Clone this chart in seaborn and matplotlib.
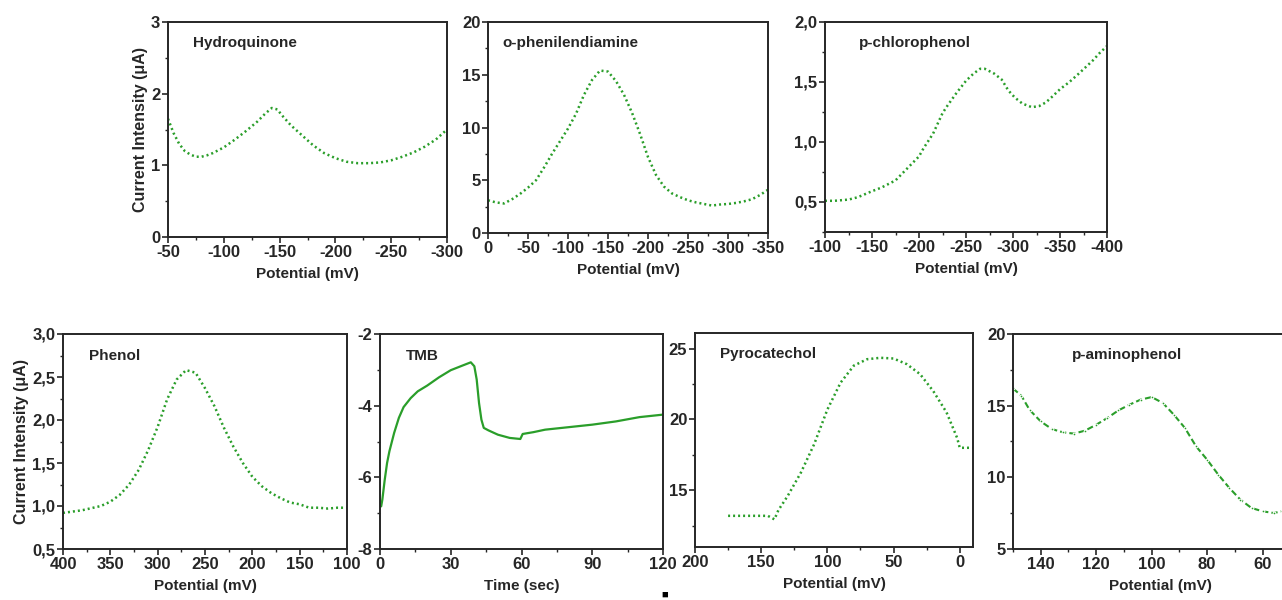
import numpy as np
import pandas as pd
import matplotlib
matplotlib.use('Agg')
import matplotlib.pyplot as plt
from matplotlib.ticker import MultipleLocator, FuncFormatter
import seaborn as sns

# ---- data ----
hq_x = [-50, -55, -60, -65, -70, -75, -80, -85, -90, -100, -110, -120, -130, -137, -143, -148,
        -152, -160, -170, -180, -190, -200, -210, -220, -230, -240, -250, -260, -270, -280, -290, -300]
hq_y = [1.65, 1.45, 1.30, 1.20, 1.15, 1.12, 1.12, 1.14, 1.17, 1.25, 1.36, 1.48, 1.61, 1.72, 1.80, 1.78,
        1.70, 1.56, 1.42, 1.28, 1.17, 1.10, 1.05, 1.03, 1.03, 1.04, 1.07, 1.12, 1.18, 1.26, 1.36, 1.50]

opd_x = [0, -10, -20, -30, -40, -50, -60, -70, -80, -90, -100, -110, -120, -130, -140, -150, -160, -170,
         -180, -190, -200, -210, -220, -230, -240, -250, -260, -270, -280, -290, -300, -310, -320, -330, -340, -350]
opd_y = [3.1, 2.9, 2.8, 3.2, 3.7, 4.3, 5.0, 6.2, 7.5, 8.7, 9.9, 11.3, 13.1, 14.5, 15.4, 15.3, 14.4, 13.1,
         11.4, 9.4, 7.2, 5.5, 4.4, 3.75, 3.4, 3.1, 2.9, 2.75, 2.6, 2.7, 2.75, 2.85, 3.0, 3.2, 3.6, 4.1]

pcp_x = [-100, -110, -125, -135, -150, -160, -175, -185, -190, -200, -205, -215, -225, -230, -240, -250,
         -258, -265, -270, -280, -288, -295, -302, -310, -320, -328, -335, -342, -350, -360, -370, -385, -392, -400]
pcp_y = [0.51, 0.51, 0.52, 0.54, 0.59, 0.62, 0.68, 0.76, 0.80, 0.88, 0.95, 1.07, 1.24, 1.30, 1.41, 1.51,
         1.57, 1.61, 1.61, 1.57, 1.52, 1.43, 1.37, 1.32, 1.29, 1.30, 1.33, 1.38, 1.44, 1.50, 1.57, 1.68, 1.74, 1.80]

phe_x = [400, 380, 360, 350, 340, 330, 320, 310, 300, 290, 280, 270, 260, 250, 240, 230, 220, 210,
         200, 190, 180, 170, 160, 150, 140, 130, 120, 110, 100]
phe_y = [0.92, 0.95, 1.00, 1.05, 1.13, 1.25, 1.42, 1.65, 1.92, 2.24, 2.47, 2.58, 2.55, 2.37, 2.16, 1.91, 1.69, 1.50,
         1.34, 1.23, 1.15, 1.09, 1.04, 1.02, 0.98, 0.98, 0.97, 0.98, 0.98]

tmb_x = [0.5, 1, 2, 3, 4, 6, 8, 10, 13, 16, 20, 25, 30, 35, 38.5, 40, 41, 42, 43, 44, 46, 50, 55, 59.5,
         60.5, 65, 70, 80, 90, 100, 110, 120]
tmb_y = [-6.81, -6.62, -6.07, -5.60, -5.27, -4.76, -4.34, -4.04, -3.79, -3.60, -3.44, -3.21, -3.01, -2.88, -2.79,
         -2.90, -3.27, -3.93, -4.39, -4.62, -4.69, -4.81, -4.90, -4.93, -4.79, -4.74, -4.67, -4.60, -4.53, -4.44, -4.32, -4.25]

pyr_x = [175, 160, 145, 140, 137, 130, 120, 110, 100, 90, 80, 70, 60, 50, 40, 30, 20, 10, 2, 0, -10]
pyr_y = [13.2, 13.2, 13.2, 12.95, 13.6, 14.6, 16.25, 18.25, 20.7, 22.6, 23.8, 24.25, 24.35, 24.3, 23.9,
         23.2, 22.0, 20.5, 18.7, 18.0, 18.0]

pap_x = [150, 147, 144, 140, 136, 132, 128, 124, 120, 116, 112, 108, 104, 100, 96, 92, 88, 84, 80, 76,
         72, 68, 64, 60, 56, 53]
pap_y = [16.2, 15.7, 14.7, 13.9, 13.37, 13.14, 13.05, 13.26, 13.67, 14.14, 14.67, 15.07, 15.42, 15.6, 15.19,
         14.37, 13.44, 12.16, 11.23, 10.19, 9.26, 8.44, 7.86, 7.63, 7.51, 7.63]

names = ['Hydroquinone', 'o-phenilendiamine', 'p-chlorophenol', 'Phenol', 'TMB', 'Pyrocatechol', 'p-aminophenol']

sns.set_style('ticks')
plt.rcParams['font.family'] = ['Liberation Sans', 'DejaVu Sans']
plt.rcParams['font.weight'] = 'bold'
plt.rcParams['axes.unicode_minus'] = False

W, H = 1282, 600
fig = plt.figure(figsize=(12.82, 6), dpi=100)
green = '#2a9e2a'


def make_ax(l, r, t, b):
    return fig.add_axes([l / W, (H - b) / H, (r - l) / W, (b - t) / H])


def comma(v, pos):
    return ('%.1f' % v).replace('.', ',')


def style(ax, name, xlim, ylim, xmaj, xmin, ymaj, ymin, xlabel, ylabel=None, comma_y=False, yticks=None):
    ax.set_xlim(*xlim)
    ax.set_ylim(*ylim)
    ax.xaxis.set_major_locator(MultipleLocator(xmaj))
    ax.xaxis.set_minor_locator(MultipleLocator(xmin))
    if yticks is not None:
        ax.set_yticks(yticks)
    else:
        ax.yaxis.set_major_locator(MultipleLocator(ymaj))
    ax.yaxis.set_minor_locator(MultipleLocator(ymin))
    if comma_y:
        ax.yaxis.set_major_formatter(FuncFormatter(comma))
    for s in ax.spines.values():
        s.set_linewidth(1.4)
    ax.tick_params(which='major', length=4, width=1.2, labelsize=12, pad=1.5)
    ax.tick_params(which='minor', length=2.5, width=1)
    for lab in ax.get_xticklabels() + ax.get_yticklabels():
        lab.set_fontweight('bold')
    ax.set_xlabel(xlabel, fontsize=11, fontweight='bold', labelpad=5)
    ax.set_ylabel(ylabel if ylabel else '', fontsize=11.5, fontweight='bold', labelpad=2)
    ax.text(0.09, 0.9, name, transform=ax.transAxes, fontsize=11, fontweight='bold', va='center', ha='left')


dotted = dict(color=green, linewidth=1.8, linestyle=(0, (0.8, 1.2)))

# top row
ax1 = make_ax(168, 447, 22, 237)
sns.lineplot(x=hq_x, y=hq_y, ax=ax1, sort=False, **dotted)
style(ax1, names[0], (-50, -300), (0, 3), 50, 25, 1, 0.5, 'Potential (mV)', 'Current Intensity (μA)')

ax2 = make_ax(488, 768, 22, 233)
sns.lineplot(x=opd_x, y=opd_y, ax=ax2, sort=False, **dotted)
style(ax2, names[1], (0, -350), (0, 20), 50, 25, 5, 2.5, 'Potential (mV)')
ax2.texts[0].set_position((0.05, 0.9))

ax3 = make_ax(825, 1107, 22, 232)
sns.lineplot(x=pcp_x, y=pcp_y, ax=ax3, sort=False, **dotted)
style(ax3, names[2], (-100, -400), (0.25, 2.0), 50, 25, 0.5, 0.25, 'Potential (mV)',
      comma_y=True, yticks=[0.5, 1.0, 1.5, 2.0])
ax3.texts[0].set_position((0.12, 0.9))

# bottom row
ax4 = make_ax(63, 347, 334, 549)
sns.lineplot(x=phe_x, y=phe_y, ax=ax4, sort=False, **dotted)
style(ax4, names[3], (400, 100), (0.5, 3.0), 50, 25, 0.5, 0.25, 'Potential (mV)', 'Current Intensity (μA)',
      comma_y=True)

ax5 = make_ax(380, 663, 334, 549)
sns.lineplot(x=tmb_x, y=tmb_y, ax=ax5, sort=False, color=green, linewidth=1.6)
style(ax5, names[4], (0, 120), (-8, -2), 30, 15, 2, 1, 'Time (sec)')

ax6 = make_ax(695, 973, 333, 547)
sns.lineplot(x=pyr_x, y=pyr_y, ax=ax6, sort=False, **dotted)
style(ax6, names[5], (200, -10), (11, 26.1), 50, 25, 5, 2.5, 'Potential (mV)', yticks=[15, 20, 25])

ax7 = make_ax(1013, 1307, 334, 549)
sns.lineplot(x=pap_x, y=pap_y, ax=ax7, sort=False, color=green, linewidth=1.5, linestyle=(0, (3, 1.5)),
             marker='o', markersize=2)
style(ax7, names[6], (150, 44), (5, 20), 20, 10, 5, 2.5, 'Potential (mV)')
ax7.texts[0].set_position((0.2, 0.9))

# small cropped mark at the bottom edge
fig.text(665 / W, 1 - 590 / H, '■', fontsize=8, color='black', ha='center', va='top')

fig.savefig('out.png', dpi=100)
